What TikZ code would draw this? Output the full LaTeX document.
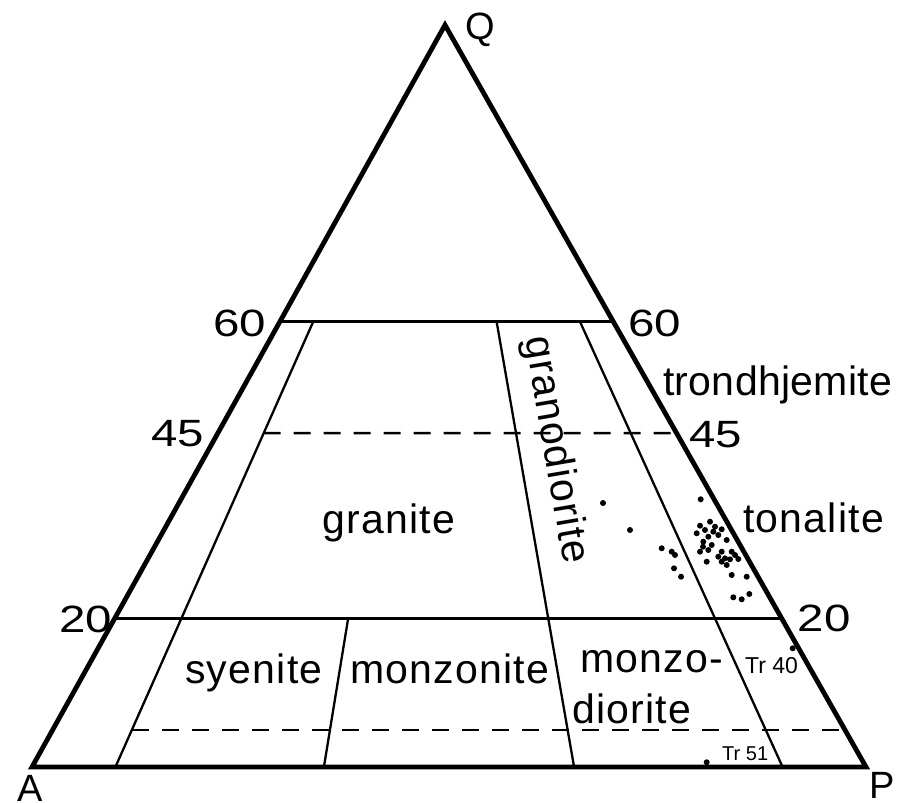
\documentclass[tikz,border=0pt]{standalone}
\usepackage{fontspec}
\usepackage{graphicx}
\setmainfont{Liberation Sans}
\newfontfamily\lblfont[LetterSpace=3]{Liberation Sans}
\newfontfamily\tightfont[LetterSpace=0.8]{Liberation Sans}
\begin{document}
\begin{tikzpicture}[x=1pt,y=-1pt,
  frame/.style={line width=4.8pt,line join=miter},
  solidline/.style={line width=2.6pt},
  divline/.style={line width=2.3pt},
  dashline/.style={line width=2.6pt,dash pattern=on 17pt off 13pt},
  lbl/.style={inner sep=0pt,anchor=base west,font=\lblfont\fontsize{41}{41}\selectfont},
  num/.style={inner sep=0pt,font=\fontsize{38}{38}\selectfont},
  small/.style={inner sep=0pt,anchor=base west},
  dot/.style={fill=black}]
\useasboundingbox (0,0) rectangle (900,803);
\coordinate (A) at (32,767);
\coordinate (P) at (866,767);
\coordinate (Q) at (445,25);
% horizontal lines
\coordinate (L60) at (barycentric cs:Q=0.6,A=0.4,P=0);
\coordinate (R60) at (barycentric cs:Q=0.6,A=0,P=0.4);
\coordinate (L20) at (barycentric cs:Q=0.2,A=0.8,P=0);
\coordinate (R20) at (barycentric cs:Q=0.2,A=0,P=0.8);
\coordinate (L45) at (barycentric cs:Q=0.45,A=0.495,P=0.055);
\coordinate (R45) at (barycentric cs:Q=0.45,A=0,P=0.55);
\coordinate (L05) at (barycentric cs:Q=0.05,A=0.855,P=0.095);
\coordinate (R05) at (barycentric cs:Q=0.05,A=0,P=0.95);
% dividers
\coordinate (D10t) at (barycentric cs:Q=0.6,A=0.36,P=0.04);
\coordinate (D10b) at (barycentric cs:Q=0,A=0.9,P=0.1);
\coordinate (D35t) at (barycentric cs:Q=0.2,A=0.52,P=0.28);
\coordinate (D35b) at (barycentric cs:Q=0,A=0.65,P=0.35);
\coordinate (D65t) at (barycentric cs:Q=0.6,A=0.14,P=0.26);
\coordinate (D65b) at (barycentric cs:Q=0,A=0.35,P=0.65);
\coordinate (D90t) at (barycentric cs:Q=0.6,A=0.04,P=0.36);
\coordinate (D90b) at (barycentric cs:Q=0,A=0.1,P=0.9);

\draw[solidline] (L60) -- (R60);
\draw[solidline] (L20) -- (R20);
\draw[dashline] (L45) -- (R45);
\draw[dashline] (L05) -- (R05);
\draw[divline] (D10t) -- (D10b);
\draw[divline] (D35t) -- (D35b);
\draw[divline] (D65t) -- (D65b);
\draw[divline] (D90t) -- (D90b);
\draw[frame] (A) -- (Q) -- (P) -- cycle;

% vertex labels
\node[num] (qlbl) at (480,30) {Q};
\node[num,anchor=north] (albl) at (30,775) {A};
\node[num,anchor=north] (plbl) at (882,772) {P};
% scale numbers
\node[num] (n60l) at (240,323) {\scalebox{1.25}[1]{60}};
\node[num] (n60r) at (655,323) {\scalebox{1.25}[1]{60}};
\node[num] (n45l) at (178,434) {\scalebox{1.25}[1]{45}};
\node[num] (n45r) at (716,435) {\scalebox{1.25}[1]{45}};
\node[num] (n20l) at (86,619) {\scalebox{1.25}[1]{20}};
\node[num] (n20r) at (824,618) {\scalebox{1.25}[1]{20}};
% field labels
\node[lbl,font=\tightfont\fontsize{41}{41}\selectfont] (trond) at (663,395) {trondhjemite};
\node[lbl] (gran) at (322,533) {granite};
\node[inner sep=0pt,font=\lblfont\fontsize{41}{41}\selectfont,rotate=-80.3] (grdio) at (555,450) {granodiorite};
\node[lbl] (tonal) at (743,532) {tonalite};
\node[lbl] (syen) at (185,683) {syenite};
\node[lbl] (monz) at (350,683) {monzonite};
\node[lbl] (monzo) at (580,672) {monzo-};
\node[lbl] (dior) at (572,723) {diorite};
\node[small,font=\fontsize{23}{23}\selectfont] (tr40) at (745,673) {Tr 40};
\node[small,font=\fontsize{20}{20}\selectfont] (tr51) at (722,760) {Tr 51};
% data points
\foreach \px/\py in {603/503,630/530,700.7/499.3,700/525.7,710/521.7,696.7/533.3,705/530,713.3/531.7,721.7/529.3,708.3/536.7,718.3/535,703.3/541.7,711.7/545,726.7/540,700/551.7,708.3/550,721.7/551.7,731.7/551.7,718.3/556.7,725/558.3,730/559.3,738.3/559,706.7/561.7,726.7/565,661.7/548.3,671.7/551.7,675/555,674/568.3,681/576.7,731.7/575,746.7/576.7,733.3/597.3,741.7/599.3,749.3/594,715/526.7,703/546.7,735/555,721.7/561.7,792.7/648.3,706.7/762.3}
  \fill[dot] (\px,\py) circle (3pt);
\end{tikzpicture}
\end{document}
